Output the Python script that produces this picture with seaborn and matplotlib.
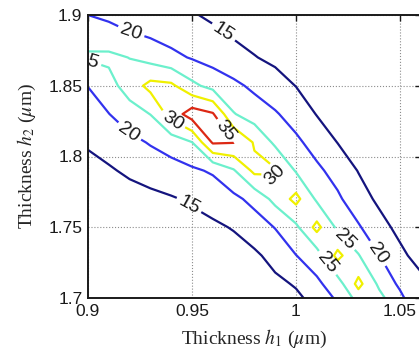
import numpy as np
import matplotlib
matplotlib.use("Agg")
import matplotlib.pyplot as plt
import seaborn as sns

# grid: h1 across, h2 down the side
h1 = [0.90, 0.91, 0.92, 0.93, 0.94, 0.95, 0.96, 0.97, 0.98,
      0.99, 1.00, 1.01, 1.02, 1.03, 1.04, 1.05, 1.06]
h2 = [1.69, 1.71, 1.73, 1.75, 1.77, 1.79, 1.81, 1.83, 1.85, 1.87, 1.89, 1.91]

row_169 = [6.0, 6.4, 6.8, 7.3, 7.8, 8.4, 9.0, 9.7, 10.6, 11.6, 13.0, 15.2, 18.8, 23.5, 29.0, 23.5, 17.5]
row_171 = [7.0, 7.5, 8.0, 8.6, 9.2, 9.9, 10.7, 11.6, 12.7, 14.0, 15.4, 19.0, 22.7, 31.5, 24.0, 19.0, 16.5]
row_173 = [8.2, 8.8, 9.4, 10.0, 10.7, 11.4, 12.2, 13.1, 14.2, 16.5, 19.9, 22.7, 31.5, 25.3, 20.1, 16.2, 13.0]
row_175 = [9.6, 10.3, 11.0, 11.8, 12.6, 13.4, 14.2, 15.3, 17.5, 20.2, 24.0, 31.5, 24.0, 20.5, 16.8, 13.6, 12.2]
row_177 = [11.3, 12.1, 12.9, 13.8, 14.6, 15.6, 16.9, 18.8, 21.5, 26.5, 31.5, 24.2, 20.8, 17.2, 14.0, 12.6, 11.5]
row_179 = [12.8, 14.4, 15.9, 17.0, 18.0, 19.2, 20.6, 24.5, 31.2, 30.6, 24.6, 21.0, 18.2, 14.8, 13.4, 12.3, 11.3]
row_181 = [15.8, 17.2, 18.6, 20.4, 22.3, 24.9, 35.6, 35.2, 29.5, 24.0, 21.0, 18.0, 14.9, 13.6, 12.5, 11.5, 10.6]
row_183 = [18.0, 19.9, 22.8, 25.1, 32.0, 37.5, 35.5, 25.3, 22.5, 20.5, 17.9, 14.8, 13.5, 12.4, 11.4, 10.5, 9.7]
row_185 = [20.1, 23.2, 27.3, 31.5, 31.0, 26.2, 23.3, 21.1, 19.0, 16.9, 14.9, 13.5, 12.4, 11.4, 10.5, 9.7, 9.0]
row_187 = [25.6, 26.0, 24.9, 23.2, 21.3, 19.6, 18.1, 16.6, 15.2, 14.0, 13.0, 12.1, 11.3, 10.5, 9.8, 9.2, 8.6]
row_189 = [22.8, 21.2, 19.6, 18.5, 17.4, 16.3, 15.3, 14.1, 13.1, 12.2, 11.4, 10.7, 10.0, 9.4, 8.8, 8.3, 7.8]
row_191 = [17.2, 16.6, 16.0, 15.4, 14.9, 14.3, 13.7, 13.1, 12.5, 11.9, 11.3, 10.8, 10.3, 9.8, 9.3, 8.9, 8.5]

levels = [15, 20, 25, 30, 35]
level_colors = ["#14147e", "#3232ee", "#6cf0cc", "#f0f000", "#dc2814"]

# rough spots where the labels sit on the original
label_spots = [(0.9644, 1.886), (0.9207, 1.888), (0.900, 1.871),
               (0.9409, 1.826), (0.9663, 1.818), (0.9207, 1.819),
               (0.949, 1.767), (0.991, 1.786), (1.013, 1.722),
               (1.0225, 1.740), (1.038, 1.730)]

x_ticks = [0.9, 0.95, 1.0, 1.05]
x_ticklabels = ["0.9", "0.95", "1", "1.05"]
y_ticks = [1.7, 1.75, 1.8, 1.85, 1.9]
y_ticklabels = ["1.7", "1.75", "1.8", "1.85", "1.9"]

sns.set_theme(style="white")
plt.rcParams["font.family"] = ["Liberation Sans", "DejaVu Sans"]
plt.rcParams["mathtext.fontset"] = "stix"

fig = plt.figure(figsize=(4.19, 3.51), dpi=100)
ax = fig.add_axes([88 / 419, 1 - 298 / 351, (420.8 - 88) / 419, (298 - 15) / 351])

Z = np.array([row_169, row_171, row_173, row_175, row_177, row_179,
              row_181, row_183, row_185, row_187, row_189, row_191])

cs = ax.contour(h1, h2, Z, levels=levels, colors=level_colors, linewidths=1.6)
texts = ax.clabel(cs, fmt="%d", fontsize=14, inline=True, colors="k",
                  manual=label_spots, inline_spacing=3)
for t in texts:
    t.set_clip_on(True)
    t.set_clip_path(ax.patch)

ax.set_xlim(0.9, 1.06)
ax.set_ylim(1.7, 1.9)
ax.set_xticks(x_ticks)
ax.set_xticklabels(x_ticklabels)
ax.set_yticks(y_ticks)
ax.set_yticklabels(y_ticklabels)
ax.tick_params(direction="in", top=True, right=True, length=4, width=1,
               labelsize=12.5, colors="k", pad=4)
ax.grid(True, linestyle=":", color="0.55", linewidth=0.8)
for s in ax.spines.values():
    s.set_color("k")
    s.set_linewidth(1.4)

ax.set_xlabel(r"Thickness $h_1$ ($\mu$m)", family="Liberation Serif", fontsize=14)
ax.set_ylabel(r"Thickness $h_2$ ($\mu$m)", family="Liberation Serif", fontsize=14)
ax.xaxis.set_label_coords(0.5, -0.105)
ax.yaxis.set_label_coords(-0.15, 0.5)

fig.savefig("out.png", dpi=100)
